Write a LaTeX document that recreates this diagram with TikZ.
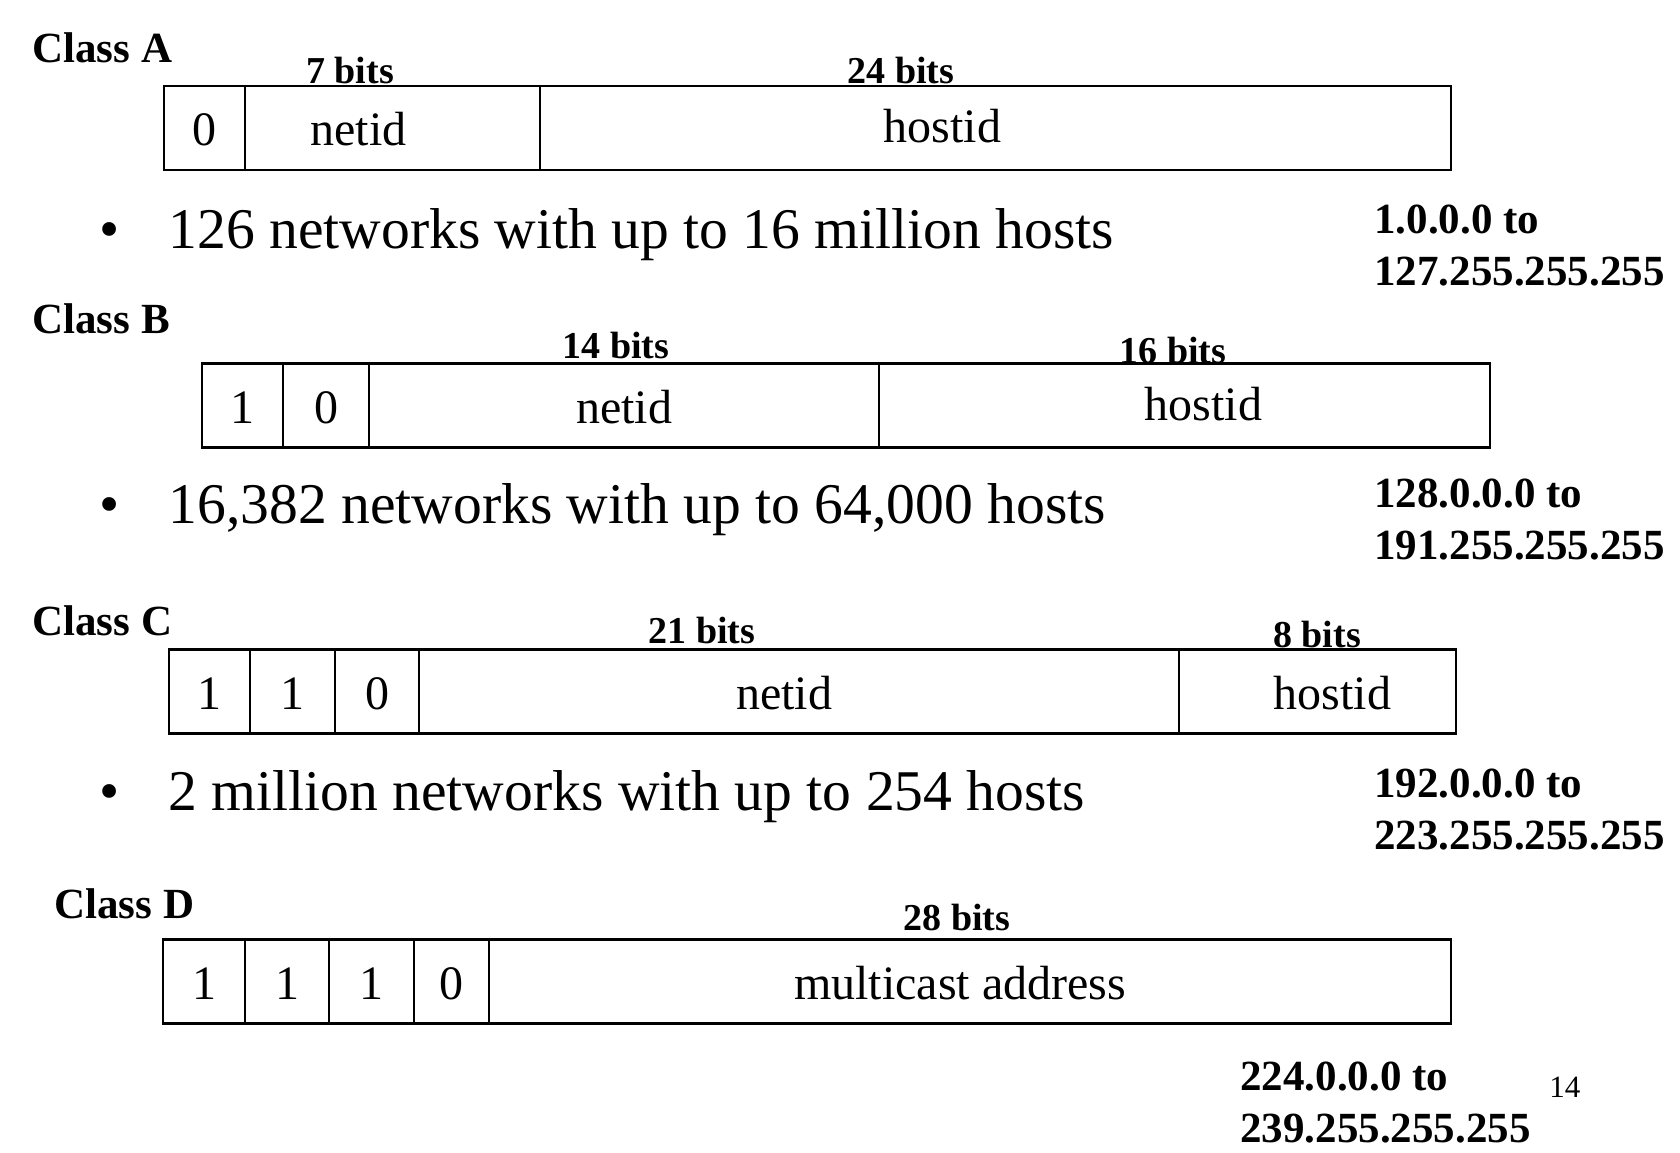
\documentclass[tikz,border=0pt]{standalone}
\usepackage{fontspec}
\setmainfont{Liberation Serif}
\usetikzlibrary{positioning}

\begin{document}
\begin{tikzpicture}[x=0.5pt,y=-0.5pt]
	\tikzstyle{field} = [draw, line width=1.2pt, inner sep=0pt, outer sep=0pt, minimum height=42pt, text height=17.5pt, text depth=0pt, font=\fontsize{24}{28}\selectfont];
	\tikzstyle{boxtext} = [inner sep=0pt, text height=17.5pt, text depth=0pt, font=\fontsize{24}{28}\selectfont];
	\tikzstyle{classname} = [anchor=base west, inner sep=0pt, font=\fontsize{21.5}{26}\selectfont\bfseries];
	\tikzstyle{bitcount} = [anchor=base, inner sep=0pt, font=\fontsize{19}{23}\selectfont\bfseries];
	\tikzstyle{bulletline} = [anchor=base west, inner sep=0pt, font=\fontsize{28.8}{34}\selectfont];
	\tikzstyle{iprange} = [anchor=north west, inner sep=0pt, align=left, font=\fontsize{21.5}{26}\selectfont\bfseries];
	\useasboundingbox (0,0) rectangle (1680,1152);

	% Class A
	\node[classname] (Aname) at (32,62) {Class A};
	\node[field, minimum width=40.5pt, anchor=west] (A0) at (164,128) {0};
	\node[field, minimum width=147.5pt, right=0pt of A0] (Anet) {};
	\node[field, minimum width=455.5pt, right=0pt of Anet] (Ahost) {};
	\node[boxtext, xshift=-17pt] (AnetT) at (Anet.center) {netid};
	\node[boxtext, xshift=-26.5pt, yshift=1.5pt] (AhostT) at (Ahost.center) {hostid};
	\node[bitcount] (Abits1) at (350,83) {7 bits};
	\node[bitcount] (Abits2) at (901,83) {24 bits};
	\node[bulletline] (Abullet) at (99,248) {\textbullet\hspace{24.5pt}126 networks with up to 16 million hosts};
	\node[iprange] (Arange) at (1374,204) {1.0.0.0 to\\127.255.255.255};

	% Class B
	\node[classname] (Bname) at (32,333) {Class B};
	\node[field, minimum width=40.5pt, anchor=west] (B1) at (202,405.5) {1};
	\node[field, minimum width=43pt, right=0pt of B1] (B0) {0};
	\node[field, minimum width=255pt, right=0pt of B0] (Bnet) {netid};
	\node[field, minimum width=305.5pt, right=0pt of Bnet] (Bhost) {};
	\node[boxtext, xshift=9.5pt, yshift=1.5pt] (BhostT) at (Bhost.center) {hostid};
	\node[bitcount] (Bbits1) at (616,358) {14 bits};
	\node[bitcount] (Bbits2) at (1173,363) {16 bits};
	\node[bulletline] (Bbullet) at (99,523) {\textbullet\hspace{24.5pt}16,382 networks with up to 64,000 hosts};
	\node[iprange] (Brange) at (1374,478) {128.0.0.0 to\\191.255.255.255};

	% Class C
	\node[classname] (Cname) at (32,635) {Class C};
	\node[field, minimum width=40.5pt, anchor=west] (C1) at (169,691.5) {1};
	\node[field, minimum width=42.5pt, right=0pt of C1] (C2) {1};
	\node[field, minimum width=42pt, right=0pt of C2] (C0) {0};
	\node[field, minimum width=380pt, right=0pt of C0] (Cnet) {};
	\node[field, minimum width=138.5pt, right=0pt of Cnet] (Chost) {};
	\node[boxtext, xshift=-7.5pt] (CnetT) at (Cnet.center) {netid};
	\node[boxtext, xshift=7.5pt] (ChostT) at (Chost.center) {hostid};
	\node[bitcount] (Cbits1) at (702,643) {21 bits};
	\node[bitcount] (Cbits2) at (1317,647) {8 bits};
	\node[bulletline] (Cbullet) at (99,810) {\textbullet\hspace{24.5pt}2 million networks with up to 254 hosts};
	\node[iprange] (Crange) at (1374,768) {192.0.0.0 to\\223.255.255.255};

	% Class D
	\node[classname] (Dname) at (54,918) {Class D};
	\node[field, minimum width=41pt, anchor=west] (D1) at (163,981.5) {1};
	\node[field, minimum width=42pt, right=0pt of D1] (D2) {1};
	\node[field, minimum width=42.5pt, right=0pt of D2] (D3) {1};
	\node[field, minimum width=37.5pt, right=0pt of D3] (D0) {0};
	\node[field, minimum width=481pt, right=0pt of D0] (Dmc) {};
	\node[boxtext, xshift=-5pt] (DmcT) at (Dmc.center) {multicast address};
	\node[bitcount] (Dbits) at (957,930) {28 bits};
	\node[iprange] (Drange) at (1240,1061) {224.0.0.0 to\\239.255.255.255};

	\node[anchor=base west, inner sep=0pt, font=\fontsize{15.5}{18}\selectfont] (page) at (1549,1097) {14};
\end{tikzpicture}
\end{document}
